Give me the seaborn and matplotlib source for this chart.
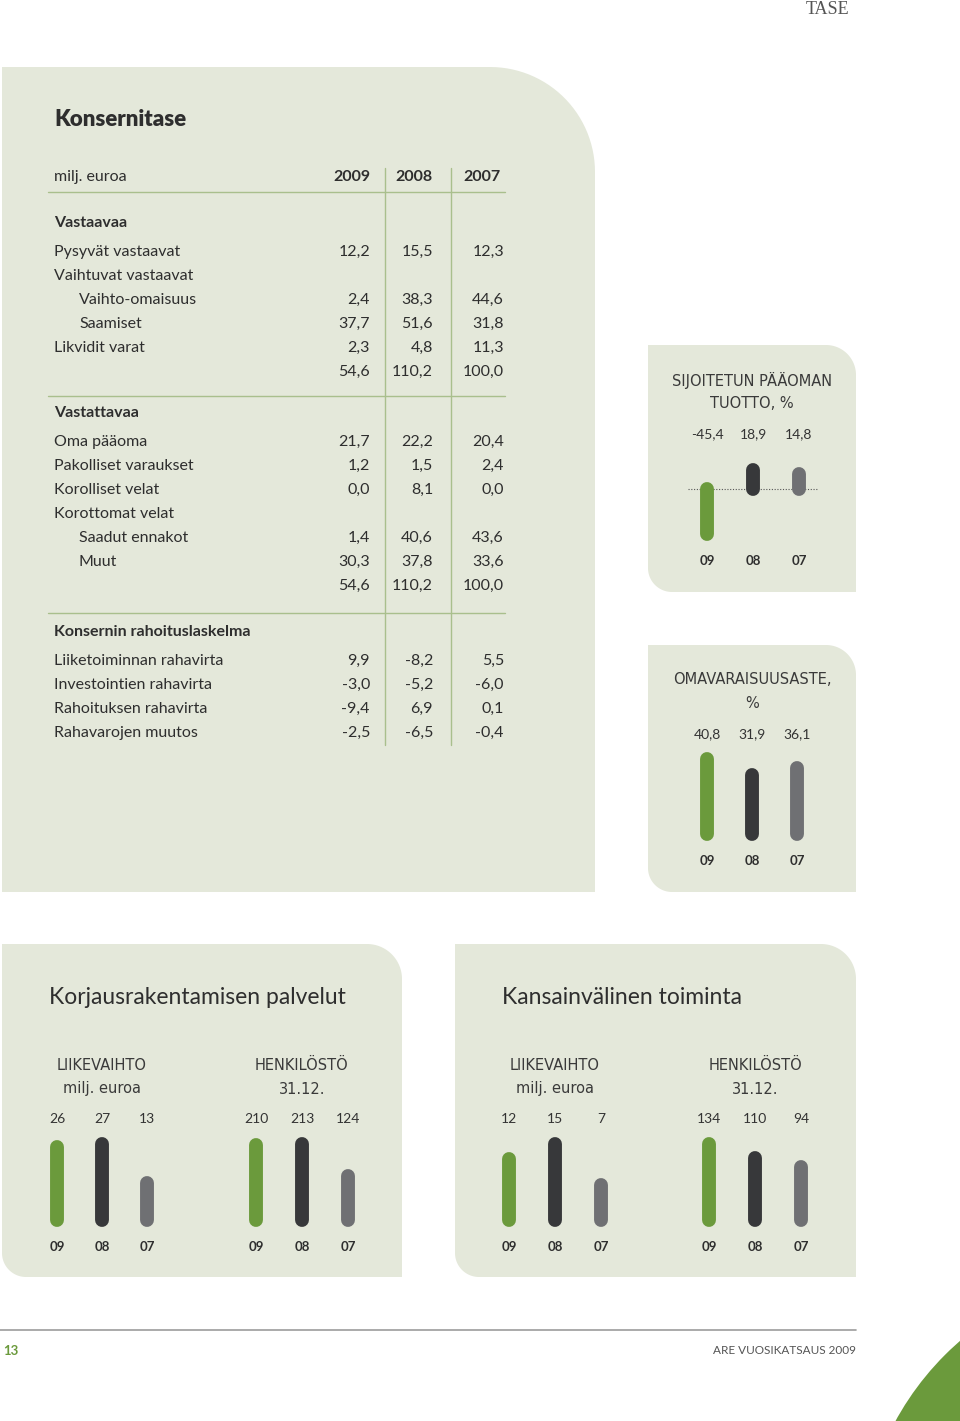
import numpy as np
import pandas as pd
import matplotlib
matplotlib.use("Agg")
import matplotlib.pyplot as plt
import seaborn as sns
from matplotlib.path import Path
from matplotlib.patches import PathPatch, Circle
from matplotlib.transforms import blended_transform_factory

sns.set_theme(style="white")
plt.rcParams['font.family'] = ['Lato', 'DejaVu Sans']

# ---------------- data ----------------
table_years = ["2009", "2008", "2007"]

asset_labels = ["Pysyvät vastaavat", "Vaihtuvat vastaavat", "Vaihto-omaisuus",
                "Saamiset", "Likvidit varat", ""]
asset_indent = [0, 0, 1, 1, 0, 0]
asset_2009 = [12.2, None, 2.4, 37.7, 2.3, 54.6]
asset_2008 = [15.5, None, 38.3, 51.6, 4.8, 110.2]
asset_2007 = [12.3, None, 44.6, 31.8, 11.3, 100.0]

liab_labels = ["Oma pääoma", "Pakolliset varaukset", "Korolliset velat",
               "Korottomat velat", "Saadut ennakot", "Muut", ""]
liab_indent = [0, 0, 0, 0, 1, 1, 0]
liab_2009 = [21.7, 1.2, 0.0, None, 1.4, 30.3, 54.6]
liab_2008 = [22.2, 1.5, 8.1, None, 40.6, 37.8, 110.2]
liab_2007 = [20.4, 2.4, 0.0, None, 43.6, 33.6, 100.0]

cash_labels = ["Liiketoiminnan rahavirta", "Investointien rahavirta",
               "Rahoituksen rahavirta", "Rahavarojen muutos"]
cash_2009 = [9.9, -3.0, -9.4, -2.5]
cash_2008 = [-8.2, -5.2, 6.9, -6.5]
cash_2007 = [5.5, -6.0, 0.1, -0.4]

bar_years = ["09", "08", "07"]
roce_values = [-45.4, 18.9, 14.8]
equity_ratio_values = [40.8, 31.9, 36.1]
korjaus_liikevaihto = [26, 27, 13]
korjaus_henkilosto = [210, 213, 124]
kv_liikevaihto = [12, 15, 7]
kv_henkilosto = [134, 110, 94]

# ---------------- style ----------------
W, H = 960, 1421
PANEL = "#e4e8da"
TEXT = "#2e2e2e"
LINE = "#a9bf8d"
GREEN = "#6b9a3c"
DARK = "#37383a"
GREY = "#6f7073"
BAR_COLORS = [GREEN, DARK, GREY]
SPACED = ['DejaVu Sans']

fig = plt.figure(figsize=(W / 100, H / 100), dpi=100)
fig.patch.set_facecolor("white")
bg = fig.add_axes([0, 0, 1, 1])
bg.set_xlim(0, W)
bg.set_ylim(H, 0)
bg.axis("off")


def panel(x0, y0, x1, y1, tl=0, tr=0, br=0, bl=0, color=PANEL):
    pts = []

    def arc(cx, cy, r, a0, a1):
        if r <= 0:
            pts.append((cx, cy))
            return
        for t in np.linspace(np.radians(a0), np.radians(a1), 30):
            pts.append((cx + r * np.cos(t), cy + r * np.sin(t)))

    arc(x1 - tr, y0 + tr, tr, -90, 0)
    arc(x1 - br, y1 - br, br, 0, 90)
    arc(x0 + bl, y1 - bl, bl, 90, 180)
    arc(x0 + tl, y0 + tl, tl, 180, 270)
    pts.append(pts[0])
    codes = [Path.MOVETO] + [Path.LINETO] * (len(pts) - 2) + [Path.CLOSEPOLY]
    bg.add_patch(PathPatch(Path(pts, codes), facecolor=color, edgecolor="none", zorder=0))


# panels
panel(2, 67, 595, 892, tr=105)
panel(648, 345, 856, 592, tr=30, bl=24)
panel(648, 645, 856, 892, tr=30, bl=24)
panel(2, 944, 402, 1277, tr=35, bl=24)
panel(455, 944, 856, 1277, tr=35, bl=24)

# page header / footer
bg.text(828, 9, "TASE", family=['Liberation Serif', 'DejaVu Serif'], fontsize=13,
        color="#555555", ha="center", va="center")
bg.plot([0, 856], [1330, 1330], color="#9c9c9c", lw=1.2)
bg.text(3, 1351, "13", color=GREEN, fontsize=9.5, fontweight="bold", ha="left", va="center")
bg.text(856, 1351, "ARE VUOSIKATSAUS 2009", color="#555555", fontsize=8.5,
        ha="right", va="center")
bg.add_patch(Circle((1150, 1560), 290, facecolor=GREEN, edgecolor="none", zorder=1))

# ---------------- table ----------------
FS = 11.5
COL_X = [370, 433, 504]


def fmt1(v):
    return f"{v:.1f}".replace(".", ",")


bg.text(54, 119, "Konsernitase", fontsize=16, fontweight="heavy", color=TEXT, va="center")
bg.text(54, 177, "milj. euroa", fontsize=FS, color=TEXT, va="center")
for x, yr in zip([370, 432, 500], table_years):
    bg.text(x, 177, yr, fontsize=FS, fontweight="bold", color=TEXT, ha="right", va="center")

for y in [192, 396, 613]:
    bg.plot([48, 505], [y, y], color=LINE, lw=1.0)
for x in [385, 451]:
    bg.plot([x, x], [168, 745], color=LINE, lw=1.0)


def rows(labels, indent, cols, y0):
    for i, lab in enumerate(labels):
        y = y0 + 24 * i
        if lab:
            bg.text(79 if indent[i] else 54, y, lab, fontsize=FS, color=TEXT, va="center")
        for cx, col in zip(COL_X, cols):
            v = col[i]
            if v is not None:
                bg.text(cx, y, fmt1(v), fontsize=FS, color=TEXT, ha="right", va="center")


bg.text(54, 223, "Vastaavaa", fontsize=FS, fontweight="bold", color=TEXT, va="center")
rows(asset_labels, asset_indent, [asset_2009, asset_2008, asset_2007], 252)
bg.text(54, 413, "Vastattavaa", fontsize=FS, fontweight="bold", color=TEXT, va="center")
rows(liab_labels, liab_indent, [liab_2009, liab_2008, liab_2007], 442)
bg.text(54, 632, "Konsernin rahoituslaskelma", fontsize=FS, fontweight="bold",
        color=TEXT, va="center")
rows(cash_labels, [0] * 4, [cash_2009, cash_2008, cash_2007], 661)


# ---------------- bar charts ----------------
def bar_chart(values, centers, base_px, ppu, label_y, year_y, fmt, dotted=False):
    sp = (centers[-1] - centers[0]) / (len(centers) - 1)
    left = centers[0] - sp / 2
    width = sp * len(centers)
    y_top = label_y - 20
    y_bot = year_y + 15
    ax = fig.add_axes([left / W, 1 - y_bot / H, width / W, (y_bot - y_top) / H])
    df = pd.DataFrame({"year": bar_years, "value": values})
    sns.barplot(data=df, x="year", y="value", hue="year", palette=BAR_COLORS,
                width=0.02, saturation=1, legend=False, ax=ax, zorder=3)
    # turn each seaborn bar into a rounded-cap stroke of the same geometry
    for p in list(ax.patches):
        xc = p.get_x() + p.get_width() / 2
        y0 = p.get_y()
        y1 = y0 + p.get_height()
        ax.plot([xc, xc], [y0, y1], color=p.get_facecolor(), lw=10,
                solid_capstyle="round", zorder=3)
        p.set_visible(False)
    ax.set_xlim(-0.5, len(values) - 0.5)
    ax.set_ylim((base_px - y_bot) / ppu, (base_px - y_top) / ppu)
    ax.axis("off")
    if dotted:
        ax.axhline(0, xmin=0.03, xmax=0.97, color="#555555", lw=0.8,
                   ls=(0, (1, 1.5)), zorder=1)
    tr = blended_transform_factory(ax.transData, bg.transData)
    for i, v in enumerate(values):
        ax.text(i, label_y, fmt(v), transform=tr, ha="center", va="center",
                fontsize=10, color="#333333")
        ax.text(i, year_y, bar_years[i], transform=tr, ha="center", va="center",
                fontsize=9.5, fontweight="bold", color=TEXT)
    return ax


def fmt_int(v):
    return f"{v:d}"


def spaced_title(x, y, s):
    bg.text(x, y, s, family=SPACED, fontsize=10.5, color="#3a3a3a", ha="center", va="center")


# Sijoitetun pääoman tuotto
spaced_title(752, 380, "SIJOITETUN PÄÄOMAN")
spaced_title(752, 403, "TUOTTO, %")
bar_chart(roce_values, [707, 753, 799], 489, 1.0, 434, 561, fmt1, dotted=True)

# Omavaraisuusaste
spaced_title(752, 680, "OMAVARAISUUSASTE,")
spaced_title(752, 703, "%")
bar_chart(equity_ratio_values, [707, 752, 797], 834, 1.84, 734, 861, fmt1)

# bottom panels
bg.text(49, 997, "Korjausrakentamisen palvelut", fontsize=16.5, color=TEXT, va="center")
bg.text(502, 997, "Kansainvälinen toiminta", fontsize=16.5, color=TEXT, va="center")

for cx in [102, 555]:
    spaced_title(cx, 1065, "LIIKEVAIHTO")
    spaced_title(cx, 1089, "milj. euroa")
for cx in [302, 755]:
    spaced_title(cx, 1065, "HENKILÖSTÖ")
    spaced_title(cx, 1089, "31.12.")

bar_chart(korjaus_liikevaihto, [57, 102, 147], 1220, 76 / 27, 1119, 1247, fmt_int)
bar_chart(korjaus_henkilosto, [256, 302, 348], 1220, 76 / 213, 1119, 1247, fmt_int)
bar_chart(kv_liikevaihto, [509, 555, 601], 1220, 76 / 15, 1119, 1247, fmt_int)
bar_chart(kv_henkilosto, [709, 755, 801], 1220, 76 / 134, 1119, 1247, fmt_int)

fig.savefig("out.png", dpi=100, facecolor="white")
